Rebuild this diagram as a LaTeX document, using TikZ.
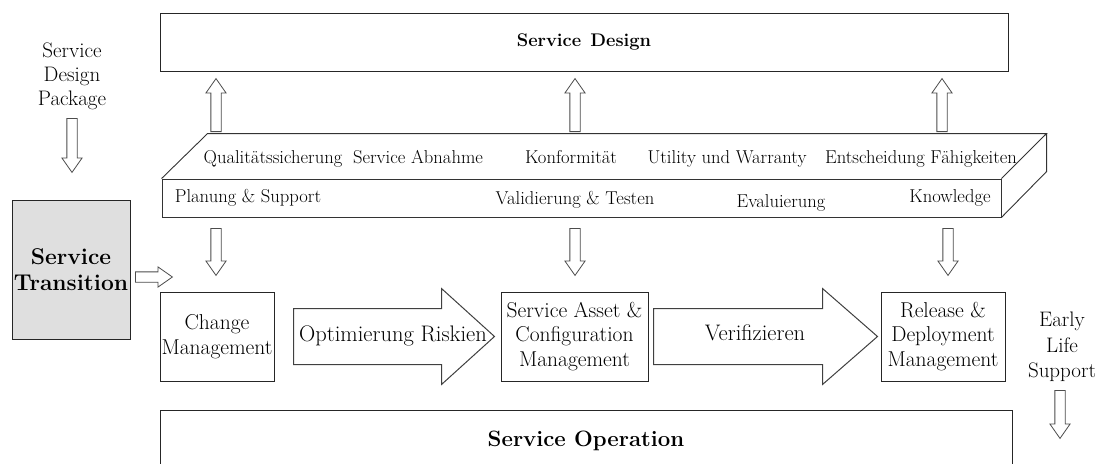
\documentclass[tikz,border=0pt]{standalone}
\usepackage{fontspec}
\usetikzlibrary{calc,positioning,shapes.arrows}

\begin{document}
\begin{tikzpicture}[x=1pt,y=-1pt,
  boxstyle/.style={
    rectangle,
    draw=black!85,
    line width=1pt,
    align=center,
    inner sep=0pt,
    font=\fontsize{21.5}{24.5}\selectfont,
  },
  facetext/.style={font=\fontsize{18.6}{22}\selectfont, inner sep=0pt, anchor=base},
  slabline/.style={draw=black!80, line width=0.9pt},
  thinarrow/.style={
    single arrow,
    draw=black!70,
    line width=0.8pt,
    fill=white,
    text height=0pt, text depth=0pt,
    inner xsep=0pt, inner ysep=4.75pt,
    minimum width=0pt,
    single arrow head extend=5pt,
    single arrow tip angle=70,
    anchor=tail,
  },
  fatarrow/.style={draw=black!75, line width=1pt, fill=white},
  arrowtext/.style={font=\fontsize{22.5}{26}\selectfont, inner sep=0pt}]
\useasboundingbox (0,0) rectangle (1102,463);

% boxes
\node[boxstyle, minimum width=848pt, minimum height=58pt,
  font=\bfseries\fontsize{18.3}{22}\selectfont] (design) at (584,42) {Service\enspace Design};
\node[boxstyle, fill=gray!25, minimum width=118pt, minimum height=139pt,
  font=\bfseries\fontsize{22.8}{26}\selectfont] (transition) at (71,269.5) {Service\\Transition};
\node[boxstyle, minimum width=114pt, minimum height=89pt] (change) at (217,336.5) {Change\\Management};
\node[boxstyle, minimum width=147pt, minimum height=89pt] (sacm) at (574.5,336.5) {Service Asset \&\\Configuration\\Management};
\node[boxstyle, minimum width=124pt, minimum height=89pt] (release) at (943,336.5) {Release \&\\Deployment\\Management};
\node[boxstyle, minimum width=852pt, minimum height=62pt,
  font=\bfseries\fontsize{22.2}{26}\selectfont] (operation) at (586,441) {Service Operation};

\node[align=center, font=\fontsize{21}{24}\selectfont] (package) at (72,76) {Service\\Design\\Package};
\node[align=center, font=\fontsize{21}{25.5}\selectfont] (early) at (1062,347) {Early\\Life\\Support};

% slab
\node[boxstyle, slabline, minimum width=839pt, minimum height=38pt] (front) at (581.5,198) {};
\draw[slabline] (front.north west) -- ++(46,-45) coordinate (backleft)
  -- ++(839,0) coordinate (backright) -- (front.north east)
  (backright) -- ++(0,38) -- (front.south east);

\node[facetext] (qual) at (273,163) {Qualitätssicherung};
\node[facetext] (abnahme) at (418,163) {Service Abnahme};
\node[facetext] (konform) at (571,163) {Konformität};
\node[facetext] (utility) at (727,163) {Utility und Warranty};
\node[facetext] (entscheidung) at (921,163) {Entscheidung Fähigkeiten};
\node[facetext] (planung) at (248,202) {Planung \& Support};
\node[facetext] (validierung) at (575,204) {Validierung \& Testen};
\node[facetext] (evaluierung) at (781,207) {Evaluierung};
\node[facetext] (knowledge) at (950,202) {Knowledge};

% thin arrows
\node[thinarrow, rotate=90, minimum height=53pt] (upA) at (216,132) {};
\node[thinarrow, rotate=90, minimum height=53pt] (upB) at (575,132) {};
\node[thinarrow, rotate=90, minimum height=53pt] (upC) at (942,132) {};
\node[thinarrow, rotate=-90, minimum height=47pt] (downA) at (216,228) {};
\node[thinarrow, rotate=-90, minimum height=47pt] (downB) at (575,228) {};
\node[thinarrow, rotate=-90, minimum height=47pt] (downC) at (948,228) {};
\node[thinarrow, rotate=-90, minimum height=54pt] (packageArrow) at (72,118) {};
\node[thinarrow, minimum height=37pt] (transitionArrow) at (135,277) {};
\node[thinarrow, rotate=-90, minimum height=48pt] (earlyArrow) at (1060,390) {};

% fat arrows
\draw[fatarrow] ($(change.east)+(19,-28)$) -- ++(148,0) -- ++(0,-20) -- ++(53,48)
  -- ++(-53,48) -- ++(0,-20) -- ++(-148,0) -- cycle;
\draw[fatarrow] ($(sacm.east)+(5,-28)$) -- ++(169,0) -- ++(0,-20) -- ++(55,48)
  -- ++(-55,48) -- ++(0,-20) -- ++(-169,0) -- cycle;
\node[arrowtext] (riskien) at (393,336) {Optimierung Riskien};
\node[arrowtext] (verifizieren) at (755,333) {Verifizieren};
\end{tikzpicture}
\end{document}
